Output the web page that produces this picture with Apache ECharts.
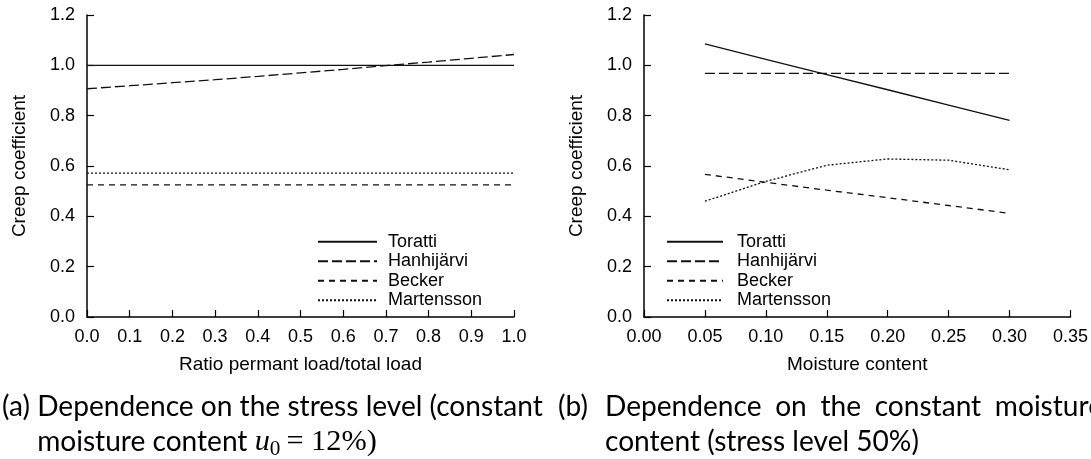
<!DOCTYPE html>
<html><head><meta charset="utf-8">
<script src="https://cdn.jsdelivr.net/npm/echarts@6/dist/echarts.min.js"></script>
<style>html,body{margin:0;padding:0;background:#fff}#c{width:1091px;height:459px}</style>
</head><body><div id="c"></div>
<script>
// ---------- data ----------
const seriesNames = ['Toratti', 'Hanhijärvi', 'Becker', 'Martensson'];

// (a) stress level
const xA = [0.0, 0.1, 0.2, 0.3, 0.4, 0.5, 0.6, 0.7, 0.8, 0.9, 1.0];
const torattiA    = [1.0, 1.0, 1.0, 1.0, 1.0, 1.0, 1.0, 1.0, 1.0, 1.0, 1.0];
const hanhijarviA = [0.907, 0.919, 0.931, 0.943, 0.956, 0.970, 0.984, 0.999, 1.013, 1.028, 1.043];
const beckerA     = [0.525, 0.525, 0.525, 0.525, 0.525, 0.525, 0.525, 0.525, 0.525, 0.525, 0.525];
const martenssonA = [0.572, 0.572, 0.572, 0.572, 0.572, 0.572, 0.572, 0.572, 0.572, 0.572, 0.572];

// (b) moisture content
const xB = [0.05, 0.10, 0.15, 0.20, 0.25, 0.30];
const torattiB    = [1.085, 1.024, 0.963, 0.903, 0.842, 0.781];
const hanhijarviB = [0.968, 0.968, 0.968, 0.968, 0.968, 0.968];
const beckerB     = [0.567, 0.535, 0.504, 0.474, 0.443, 0.412];
const martenssonB = [0.460, 0.539, 0.603, 0.628, 0.623, 0.585];

const xNameA = 'Ratio permant load/total load';
const xNameB = 'Moisture content';
const yName = 'Creep coefficient';

const capA1 = '(a) Dependence on the stress level (constant';
const capA2 = 'moisture content ';
const capB1 = ['(b)', 'Dependence', 'on', 'the', 'constant', 'moisture'];
const capB2 = 'content (stress level 50%)';

// ---------- styles ----------
const dashes = ['solid', [10, 4], [6, 5], [2, 2]];
const LINE_COLOR = '#111';
const AX_FONT = '"Liberation Sans", Arial, sans-serif';

function mkX(grid, min, max, interval, dec, name) {
  return {
    gridIndex: grid, type: 'value', min: min, max: max, interval: interval,
    axisLine: {lineStyle: {color: '#000', width: 1.5}},
    axisTick: {inside: true, length: 7, lineStyle: {color: '#000', width: 1.2}},
    axisLabel: {formatter: v => v.toFixed(dec), fontSize: 18, color: '#000', margin: 11, fontFamily: AX_FONT},
    splitLine: {show: false},
    name: name, nameLocation: 'middle', nameGap: 38,
    nameTextStyle: {fontSize: 19, color: '#000', fontFamily: AX_FONT}
  };
}
function mkY(grid) {
  return {
    gridIndex: grid, type: 'value', min: 0, max: 1.2, interval: 0.2,
    axisLine: {show: true, lineStyle: {color: '#000', width: 1.5}},
    axisTick: {show: true, inside: true, length: 7, lineStyle: {color: '#000', width: 1.2}},
    axisLabel: {formatter: v => v.toFixed(1), fontSize: 18, color: '#000', margin: 12, fontFamily: AX_FONT},
    splitLine: {show: false},
    name: yName, nameLocation: 'middle', nameGap: 58,
    nameTextStyle: {fontSize: 19, color: '#000', fontFamily: AX_FONT}
  };
}
function mkSeries(name, idx, grid, xs, ys) {
  return {
    type: 'line', name: name, xAxisIndex: grid, yAxisIndex: grid,
    data: xs.map((x, i) => [x, ys[i]]),
    symbol: 'none', showSymbol: false, silent: true, animation: false,
    lineStyle: {color: LINE_COLOR, width: 1.3, type: dashes[idx]},
    itemStyle: {color: LINE_COLOR}
  };
}
function mkLegend(left, width, pad) {
  return {
    data: seriesNames, orient: 'vertical', left: left, top: 232,
    icon: 'inherit',
    itemWidth: width, itemHeight: 10, itemGap: 0, padding: 0,
    selectedMode: false,
    itemStyle: {opacity: 0},
    textStyle: {fontSize: 18, color: '#000', fontFamily: AX_FONT, lineHeight: 19.5, padding: [0, 0, 0, pad]}
  };
}

// ---------- captions (graphic text) ----------
const ctx = document.createElement('canvas').getContext('2d');
function tw(text, size, family, style) {
  ctx.font = (style || 'normal') + ' ' + size + 'px ' + family;
  return ctx.measureText(text).width;
}
const CAP_FONT = 'Lato, "Open Sans", sans-serif';
const MATH_FONT = '"Liberation Serif", "DejaVu Serif", serif';
const capSize = 24 * 541 / tw(capA1, 24, CAP_FONT);
const BASE1 = 415, BASE2 = 450;
function txt(text, x, base, size, family, style) {
  return {
    type: 'text', x: x, y: base, silent: true,
    style: {text: text, fontSize: size, fontFamily: family, fontStyle: style || 'normal',
            fill: '#000', align: 'left', verticalAlign: 'bottom'}
  };
}
const desc = 0.22;
const graphics = [];
graphics.push(txt(capA1, 2, BASE1 + capSize * desc, capSize, CAP_FONT));
let xx = 2 + tw('(a) ', capSize, CAP_FONT);
graphics.push(txt(capA2, xx, BASE2 + capSize * desc, capSize, CAP_FONT));
xx += tw(capA2, capSize, CAP_FONT);
const mSize = capSize * 1.08;
graphics.push(txt('u', xx, BASE2 + mSize * desc, mSize, MATH_FONT, 'italic'));
xx += tw('u', mSize, MATH_FONT, 'italic');
const sSize = mSize * 0.7;
graphics.push(txt('0', xx, BASE2 + 5 + sSize * desc, sSize, MATH_FONT));
xx += tw('0', sSize, MATH_FONT) + 4;
graphics.push(txt('= 12%)', xx + 2, BASE2 + mSize * desc, mSize, MATH_FONT));

// (b) justified first line
const bStart = 558, depStart = 605, bEnd = 1103;
graphics.push(txt(capB1[0], bStart, BASE1 + capSize * desc, capSize, CAP_FONT));
const words = capB1.slice(1);
const wsum = words.reduce((s, w) => s + tw(w, capSize, CAP_FONT), 0);
const gap = (bEnd - depStart - wsum) / (words.length - 1);
let bx = depStart;
words.forEach(w => {
  graphics.push(txt(w, bx, BASE1 + capSize * desc, capSize, CAP_FONT));
  bx += tw(w, capSize, CAP_FONT) + gap;
});
graphics.push(txt(capB2, depStart, BASE2 + capSize * desc, capSize, CAP_FONT));

// ---------- chart ----------
const chart = echarts.init(document.getElementById('c'), null, {renderer: 'canvas'});
const series = [];
const setsA = [torattiA, hanhijarviA, beckerA, martenssonA];
const setsB = [torattiB, hanhijarviB, beckerB, martenssonB];
seriesNames.forEach((n, i) => series.push(mkSeries(n, i, 0, xA, setsA[i])));
seriesNames.forEach((n, i) => series.push(mkSeries(n, i, 1, xB, setsB[i])));

chart.setOption({
  animation: false,
  backgroundColor: '#fff',
  grid: [
    {left: 87, top: 15, width: 427, height: 302},
    {left: 644, top: 15, width: 427, height: 302}
  ],
  xAxis: [mkX(0, 0, 1, 0.1, 1, xNameA), mkX(1, 0, 0.35, 0.05, 2, xNameB)],
  yAxis: [mkY(0), mkY(1)],
  legend: [mkLegend(317, 59, 6), mkLegend(666, 56, 9)],
  series: series,
  graphic: graphics
});
</script>
</body></html>
